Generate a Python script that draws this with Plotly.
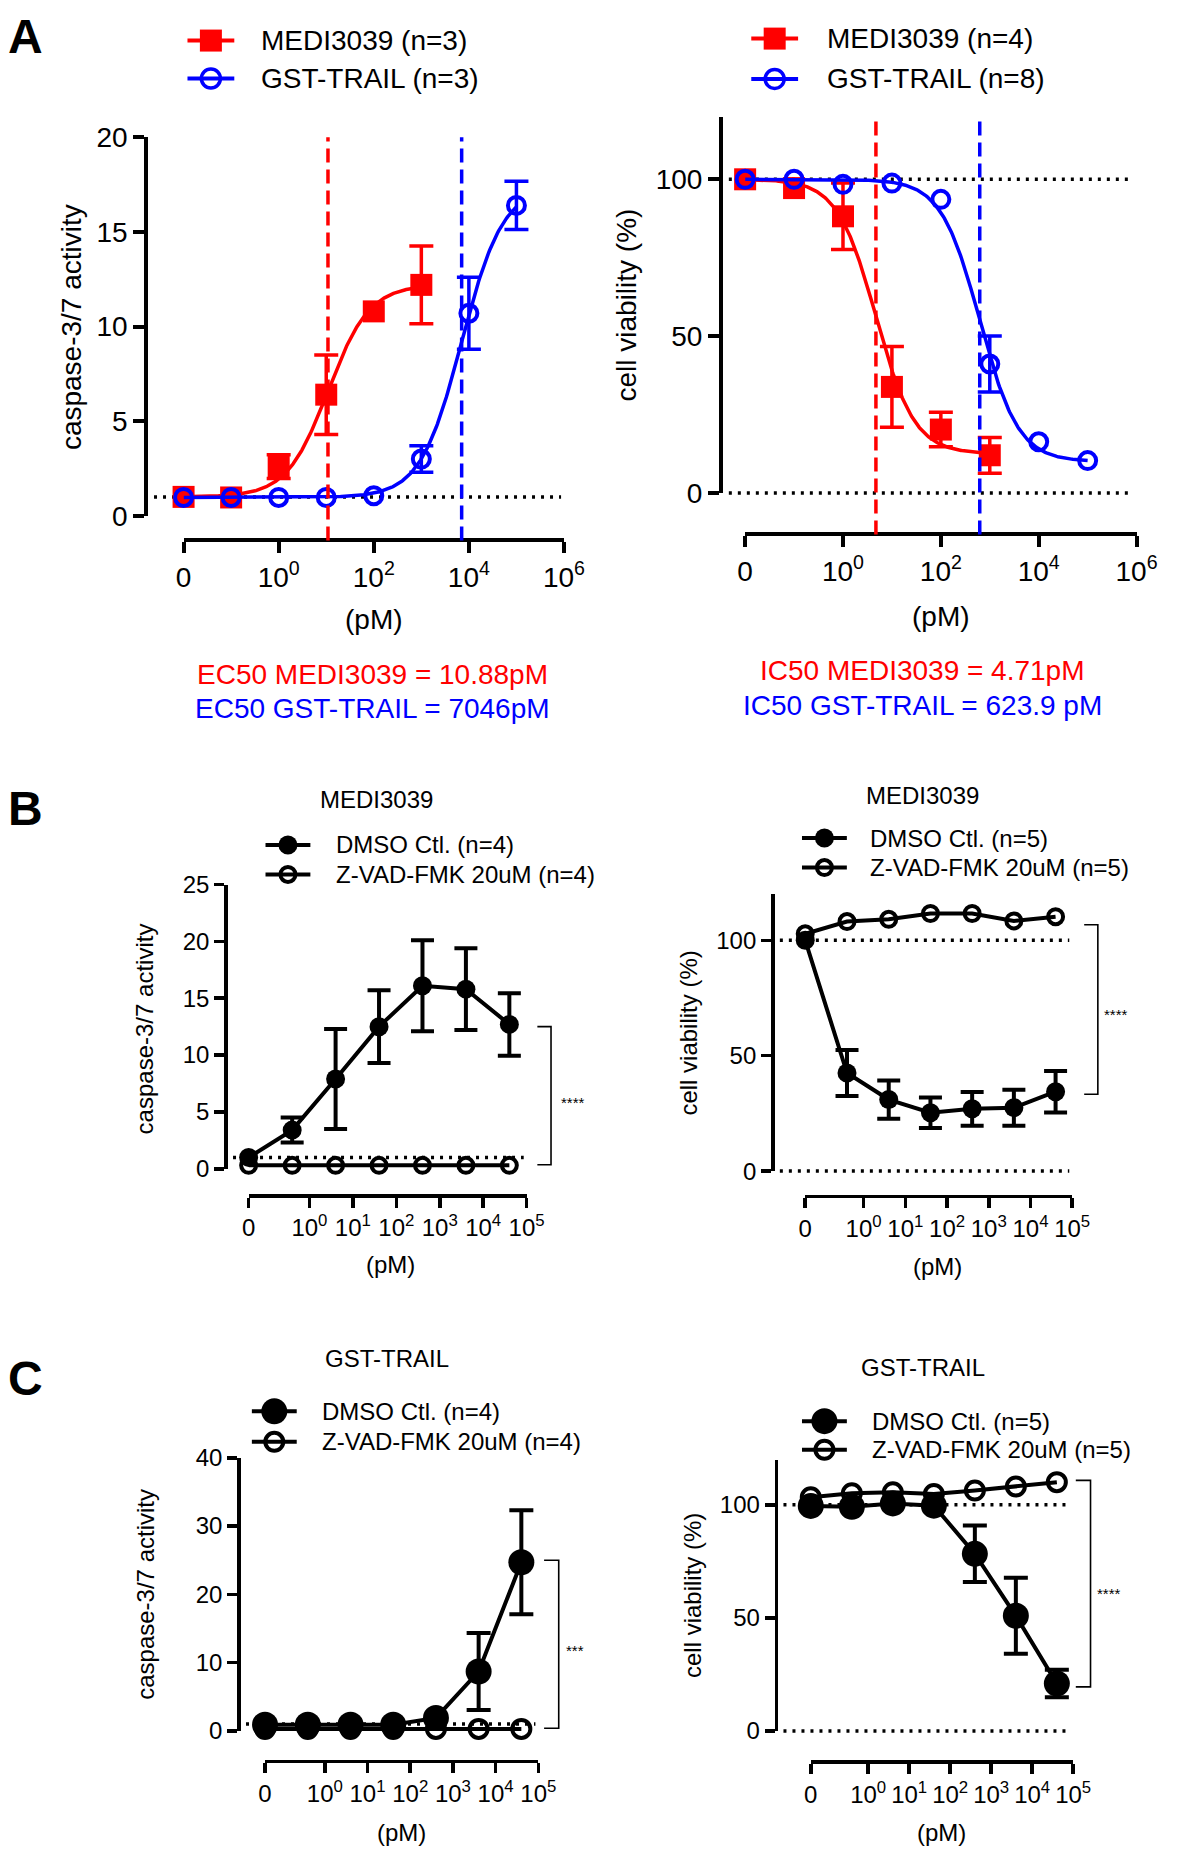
import numpy as np
import plotly.graph_objects as go

W, H = 1180, 1861
FONT = "Liberation Sans, Arial, Helvetica, sans-serif"
RED, BLUE, BLACK = "#FF0000", "#0000FF", "#000000"

# ---------------- data ----------------
# Panel A : concentrations in pM (0 = untreated control)
concA_medi = [0, 0.1, 1, 10, 100, 1000]
concA_gst = [0, 0.1, 1, 10, 100, 1000, 10000, 100000]
A_casp_medi = [1.0, 0.97, 2.6, 6.4, 10.8, 12.2]
A_casp_medi_err = [0, 0, 0.63, 2.1, 0, 2.05]
A_casp_gst = [0.97, 0.97, 0.97, 0.97, 1.06, 3.0, 10.7, 16.4]
A_casp_gst_err = [0, 0, 0, 0, 0, 0.7, 1.9, 1.27]
A_viab_medi = [100, 97.2, 88.2, 33.8, 20.2, 12.0]
A_viab_medi_err = [0, 0, 10.6, 12.9, 5.5, 5.7]
A_viab_gst = [100, 100, 98.4, 98.8, 93.6, 41.1, 16.3, 10.3]
A_viab_gst_err = [0, 0, 0, 0, 0, 8.9, 0, 0]

# fitted four-parameter logistic curves (bottom, top, hill)
EC50_medi, EC50_gst = 10.88, 7046
IC50_medi, IC50_gst = 4.71, 623.9
fit_casp_medi = (1.0, 12.2, 1.0)
fit_casp_gst = (0.97, 17.4, 1.0)
fit_viab_medi = (12.5, 100.0, 1.1)
fit_viab_gst = (10.0, 100.0, 1.1)

# Panels B / C
concBC = [0, 0.4, 4, 40, 400, 4000, 40000]
B_casp_dmso = [1.0, 3.4, 7.9, 12.5, 16.1, 15.8, 12.7]
B_casp_dmso_err = [0, 1.1, 4.4, 3.2, 4.0, 3.6, 2.75]
B_casp_zvad = [0.3, 0.3, 0.3, 0.3, 0.3, 0.3, 0.3]
B_viab_dmso = [100, 42.5, 31.0, 25.3, 27.0, 27.5, 34.4]
B_viab_dmso_err = [0, 10.0, 8.3, 6.6, 7.3, 7.8, 9.0]
B_viab_zvad = [102.8, 108.1, 109.1, 111.6, 111.6, 108.4, 110.2]
C_casp_dmso = [0.9, 0.9, 0.9, 0.9, 1.9, 8.7, 24.7]
C_casp_dmso_err = [0, 0, 0, 0, 0, 5.65, 7.6]
C_casp_zvad = [0.3, 0.3, 0.3, 0.3, 0.3, 0.3, 0.3]
C_viab_dmso = [99.5, 99.1, 100.6, 99.6, 78.3, 50.9, 21.0]
C_viab_dmso_err = [0, 0, 0, 0, 12.5, 16.8, 6.1]
C_viab_zvad = [103.3, 105.1, 105.5, 104.8, 106.3, 108.1, 110.0]

# significance brackets (data range spanned)
sig_B_casp, sig_B_viab = (0.35, 12.5), (33.3, 106.7)
sig_C_casp, sig_C_viab = (0.4, 25.0), (19.5, 110.8)

ticks_A = [0, 1, 100, 10000, 1000000]
ticks_BC = [0, 1, 10, 100, 1000, 10000, 100000]

# ---------------- layout geometry (pixels) ----------------
P = {
    1: dict(xl=180, xr=570, xy=534.3, yb=509.3, yt=124.3, yx=141.7, zero=-2, xmax=6,
            yr=[0, 20], ytv=[0, 5, 10, 15, 20], lw=4, tl=11, fs=28, ticks=ticks_A),
    2: dict(xl=755.7, xr=1157, xy=528.3, yb=486, yt=103.3, yx=731, zero=-2, xmax=6,
            yr=[0, 120], ytv=[0, 50, 100], lw=4, tl=11, fs=28, ticks=ticks_A),
    3: dict(xl=246.7, xr=531.7, xy=1200, yb=1173.3, yt=884.3, yx=222.7, zero=-1.4, xmax=5,
            yr=[0, 25], ytv=[0, 5, 10, 15, 20, 25], lw=3.5, tl=10, fs=24, ticks=ticks_BC),
    4: dict(xl=817.3, xr=1091, xy=1200.7, yb=1175.7, yt=894, yx=783.3, zero=-1.4, xmax=5,
            yr=[0, 120], ytv=[0, 50, 100], lw=3.5, tl=10, fs=24, ticks=ticks_BC),
    5: dict(xl=263.5, xr=543.7, xy=1775.5, yb=1745, yt=1467.2, yx=236, zero=-1.4, xmax=5,
            yr=[0, 40], ytv=[0, 10, 20, 30, 40], lw=3.5, tl=10, fs=24, ticks=ticks_BC),
    6: dict(xl=823, xr=1092, xy=1776, yb=1745, yt=1469, yx=787, zero=-1.4, xmax=5,
            yr=[0, 120], ytv=[0, 50, 100], lw=3.5, tl=10, fs=24, ticks=ticks_BC),
}


def aid(k):
    return "" if k == 1 else str(k)


def fx(px):
    return px / W


def fy(py):
    return 1 - py / H


def xpos(concs, zero):
    return [zero if c == 0 else float(np.log10(c)) for c in concs]


def ticktext(c):
    return "0" if c == 0 else "10<sup>%d</sup>" % int(round(np.log10(c)))


fig = go.Figure()
shapes, annotations = [], []
layout_axes = {}

for k, p in P.items():
    tv = xpos(p["ticks"], p["zero"])
    layout_axes["xaxis" + aid(k)] = dict(
        domain=[fx(p["xl"]), fx(p["xr"])], range=[p["zero"], p["xmax"]],
        anchor="free", position=fy(p["xy"]), showline=True, linecolor=BLACK,
        linewidth=p["lw"], ticks="outside", ticklen=p["tl"], tickwidth=p["lw"],
        tickcolor=BLACK, tickvals=tv, ticktext=[ticktext(c) for c in p["ticks"]],
        tickfont=dict(family=FONT, size=p["fs"], color=BLACK),
        showgrid=False, zeroline=False, fixedrange=True)
    layout_axes["yaxis" + aid(k)] = dict(
        domain=[fy(p["yb"]), fy(p["yt"])], range=p["yr"],
        anchor="free", position=fx(p["yx"]), showline=True, linecolor=BLACK,
        linewidth=p["lw"], ticks="outside", ticklen=p["tl"], tickwidth=p["lw"],
        tickcolor=BLACK, tickvals=p["ytv"],
        tickfont=dict(family=FONT, size=p["fs"], color=BLACK),
        showgrid=False, zeroline=False, fixedrange=True)

# overlay axes spanning the page (used for legend glyphs only)
layout_axes["xaxis7"] = dict(domain=[0, 1], range=[0, W], visible=False, anchor="y7", fixedrange=True)
layout_axes["yaxis7"] = dict(domain=[0, 1], range=[H, 0], visible=False, anchor="x7", fixedrange=True)


def ref_line(k, value, width=3.5):
    p = P[k]
    frac = (value - p["yr"][0]) / (p["yr"][1] - p["yr"][0])
    shapes.append(dict(type="line", xref="paper", yref="y%s domain" % aid(k),
                       x0=fx(p["yx"] + 8), x1=fx(p["xr"] - 3), y0=frac, y1=frac,
                       line=dict(color=BLACK, width=width, dash="3px,6px"), layer="below"))


def mid_line(k, conc, color):
    p = P[k]
    shapes.append(dict(type="line", xref="x" + aid(k), yref="paper",
                       x0=float(np.log10(conc)), x1=float(np.log10(conc)),
                       y0=fy(p["xy"]), y1=fy(p["yt"]),
                       line=dict(color=color, width=3.5, dash="14px,7px"), layer="above"))


def bracket(k, rng, x_in, x_out, label, lx, ly):
    shapes.append(dict(type="path", xref="paper", yref="y" + aid(k),
                       path="M %f,%f L %f,%f L %f,%f L %f,%f" % (
                           fx(x_in), rng[1], fx(x_out), rng[1], fx(x_out), rng[0], fx(x_in), rng[0]),
                       line=dict(color=BLACK, width=1.6)))
    annotations.append(dict(x=fx(lx), y=fy(ly), xref="paper", yref="paper", text=label,
                            showarrow=False, font=dict(family=FONT, size=15, color=BLACK),
                            xanchor="center", yanchor="middle"))


def series(k, concs, vals, errs, color, symbol, size, lw_line, mode="lines+markers",
           mline=0, ecap=12, ethick=3.5):
    p = P[k]
    xs = xpos(concs, p["zero"])
    ex = [x for x, e in zip(xs, errs) if e > 0]
    ey = [v for v, e in zip(vals, errs) if e > 0]
    ee = [e for e in errs if e > 0]
    if ee:
        fig.add_trace(go.Scatter(x=ex, y=ey, mode="markers", marker=dict(size=2, opacity=0),
                                 error_y=dict(type="data", array=ee, visible=True, color=color,
                                              thickness=ethick, width=ecap),
                                 xaxis="x" + aid(k), yaxis="y" + aid(k), showlegend=False,
                                 hoverinfo="skip", cliponaxis=False))
    mk = dict(color=color, size=size, symbol=symbol)
    if mline:
        mk["line"] = dict(color=color, width=mline)
    fig.add_trace(go.Scatter(x=xs, y=vals, mode=mode, marker=mk,
                             line=dict(color=color, width=lw_line),
                             xaxis="x" + aid(k), yaxis="y" + aid(k), showlegend=False,
                             cliponaxis=False))


def fit_curve(k, concs, logmid, params, color, rising=True):
    p = P[k]
    bottom, top, hill = params
    xs = np.linspace(p["zero"], xpos(concs, p["zero"])[-1], 300)
    s = 1.0 if rising else -1.0
    ys = bottom + (top - bottom) / (1 + 10 ** (s * (logmid - xs) * hill))
    fig.add_trace(go.Scatter(x=xs, y=ys, mode="lines", line=dict(color=color, width=3.5),
                             xaxis="x" + aid(k), yaxis="y" + aid(k), showlegend=False,
                             hoverinfo="skip"))


def text(x, y, s, size, color=BLACK, anchor="center", angle=0):
    annotations.append(dict(x=fx(x), y=fy(y), xref="paper", yref="paper", text=s,
                            showarrow=False, textangle=angle,
                            font=dict(family=FONT, size=size, color=color),
                            xanchor=anchor, yanchor="middle"))


def legend_item(xm, y, half, color, symbol, size, mline, lw_line, label, tx, fs):
    fig.add_trace(go.Scatter(x=[xm - half, xm + half], y=[y, y], mode="lines",
                             line=dict(color=color, width=lw_line), xaxis="x7", yaxis="y7",
                             showlegend=False, hoverinfo="skip"))
    mk = dict(color=color, size=size, symbol=symbol)
    if mline:
        mk["line"] = dict(color=color, width=mline)
    fig.add_trace(go.Scatter(x=[xm], y=[y], mode="markers", marker=mk, xaxis="x7", yaxis="y7",
                             showlegend=False, hoverinfo="skip", cliponaxis=False))
    text(tx, y, label, fs, anchor="left")


# ---------- Panel A left: caspase ----------
ref_line(1, 1)
fit_curve(1, concA_medi, np.log10(EC50_medi), fit_casp_medi, RED, True)
series(1, concA_medi, A_casp_medi, A_casp_medi_err, RED, "square", 22, 0, mode="markers")
fit_curve(1, concA_gst, np.log10(EC50_gst), fit_casp_gst, BLUE, True)
series(1, concA_gst, A_casp_gst, A_casp_gst_err, BLUE, "circle-open", 17, 0, mode="markers", mline=4)
mid_line(1, EC50_medi, RED)
mid_line(1, EC50_gst, BLUE)

# ---------- Panel A right: viability ----------
ref_line(2, 100)
ref_line(2, 0)
fit_curve(2, concA_medi, np.log10(IC50_medi), fit_viab_medi, RED, False)
series(2, concA_medi, A_viab_medi, A_viab_medi_err, RED, "square", 22, 0, mode="markers")
fit_curve(2, concA_gst, np.log10(IC50_gst), fit_viab_gst, BLUE, False)
series(2, concA_gst, A_viab_gst, A_viab_gst_err, BLUE, "circle-open", 17, 0, mode="markers", mline=4)
mid_line(2, IC50_medi, RED)
mid_line(2, IC50_gst, BLUE)

# ---------- Panel B ----------
ref_line(3, 1)
series(3, concBC, B_casp_zvad, [0] * 7, BLACK, "circle-open", 15, 4, mline=4)
series(3, concBC, B_casp_dmso, B_casp_dmso_err, BLACK, "circle", 19, 4, ecap=11.5, ethick=4)
bracket(3, sig_B_casp, 542.7, 556.7, "****", 579, 1106)

ref_line(4, 100)
ref_line(4, 0)
series(4, concBC, B_viab_zvad, [0] * 7, BLACK, "circle-open", 15, 4, mline=4)
series(4, concBC, B_viab_dmso, B_viab_dmso_err, BLACK, "circle", 19, 4, ecap=11.5, ethick=4)
bracket(4, sig_B_viab, 1103.3, 1117.3, "****", 1136, 1016)

# ---------- Panel C ----------
ref_line(5, 1)
series(5, concBC, C_casp_zvad, [0] * 7, BLACK, "circle-open", 18, 4, mline=4)
series(5, concBC, C_casp_dmso, C_casp_dmso_err, BLACK, "circle", 26, 4, ecap=12, ethick=4)
bracket(5, sig_C_casp, 549.6, 564.6, "***", 581.6, 1663)

ref_line(6, 100)
ref_line(6, 0)
series(6, concBC, C_viab_zvad, [0] * 7, BLACK, "circle-open", 18, 4, mline=4)
series(6, concBC, C_viab_dmso, C_viab_dmso_err, BLACK, "circle", 26, 4, ecap=12, ethick=4)
bracket(6, sig_C_viab, 1094.7, 1109.8, "****", 1129, 1605)

# ---------- legends ----------
legend_item(208, 26, 24, RED, "square", 22, 0, 4, "MEDI3039 (n=3)", 257, 28)
legend_item(208, 64.5, 24, BLUE, "circle-open", 19, 3.5, 4, "GST-TRAIL (n=3)", 257, 28)
legend_item(786, 24, 24, RED, "square", 22, 0, 4, "MEDI3039 (n=4)", 838, 28)
legend_item(786, 65, 24, BLUE, "circle-open", 19, 3.5, 4, "GST-TRAIL (n=8)", 838, 28)

legend_item(287, 844, 23, BLACK, "circle", 19, 0, 4, "DMSO Ctl. (n=4)", 334, 24)
legend_item(287, 874, 23, BLACK, "circle-open", 15, 4, 4, "Z-VAD-FMK 20uM (n=4)", 334, 24)
legend_item(837, 837, 23, BLACK, "circle", 19, 0, 4, "DMSO Ctl. (n=5)", 882, 24)
legend_item(837, 867, 23, BLACK, "circle-open", 15, 4, 4, "Z-VAD-FMK 20uM (n=5)", 882, 24)

legend_item(273, 1420, 23, BLACK, "circle", 26, 0, 4, "DMSO Ctl. (n=4)", 320, 24)
legend_item(273, 1451, 23, BLACK, "circle-open", 18, 4, 4, "Z-VAD-FMK 20uM (n=4)", 320, 24)
legend_item(837, 1430, 23, BLACK, "circle", 26, 0, 4, "DMSO Ctl. (n=5)", 884, 24)
legend_item(837, 1459, 23, BLACK, "circle-open", 18, 4, 4, "Z-VAD-FMK 20uM (n=5)", 884, 24)

# ---------- texts ----------
text(18, 22, "<b>A</b>", 48)
text(18, 807, "<b>B</b>", 48)
text(18, 1387, "<b>C</b>", 48)

text(65, 317, "caspase-3/7 activity", 28, angle=-90)
text(634, 295, "cell viability (%)", 28, angle=-90)
text(140, 1031, "caspase-3/7 activity", 24, angle=-90)
text(698, 1035, "cell viability (%)", 24, angle=-90)
text(141, 1606, "caspase-3/7 activity", 24, angle=-90)
text(701, 1607, "cell viability (%)", 24, angle=-90)

text(375, 615, "(pM)", 28)
text(957, 612, "(pM)", 28)
text(392, 1271, "(pM)", 24)
text(953, 1273, "(pM)", 24)
text(403, 1848, "(pM)", 24)
text(957, 1848, "(pM)", 24)

text(373.5, 671, "EC50 MEDI3039 = %.2fpM" % EC50_medi, 28, RED)
text(373.5, 705, "EC50 GST-TRAIL = %dpM" % EC50_gst, 28, BLUE)
text(937.5, 667, "IC50 MEDI3039 = %.2fpM" % IC50_medi, 28, RED)
text(937.5, 702, "IC50 GST-TRAIL = %.1f pM" % IC50_gst, 28, BLUE)

text(378, 798, "MEDI3039", 24)
text(938, 794, "MEDI3039", 24)
text(389, 1366, "GST-TRAIL", 24)
text(938, 1375, "GST-TRAIL", 24)

fig.update_layout(
    width=W, height=H, autosize=False,
    margin=dict(l=0, r=0, t=0, b=0, pad=0),
    paper_bgcolor="white", plot_bgcolor="rgba(0,0,0,0)",
    showlegend=False, shapes=shapes, annotations=annotations,
    font=dict(family=FONT, color=BLACK),
    **layout_axes,
)

fig.write_html("out.html", include_plotlyjs=True, full_html=True,
               config={"displayModeBar": False, "staticPlot": True},
               post_script="document.documentElement.style.margin='0';"
                           "document.body.style.margin='0';document.body.style.padding='0';"
                           "document.documentElement.style.overflow='hidden';"
                           "document.body.style.overflow='hidden';window.scrollTo(0,0);")
